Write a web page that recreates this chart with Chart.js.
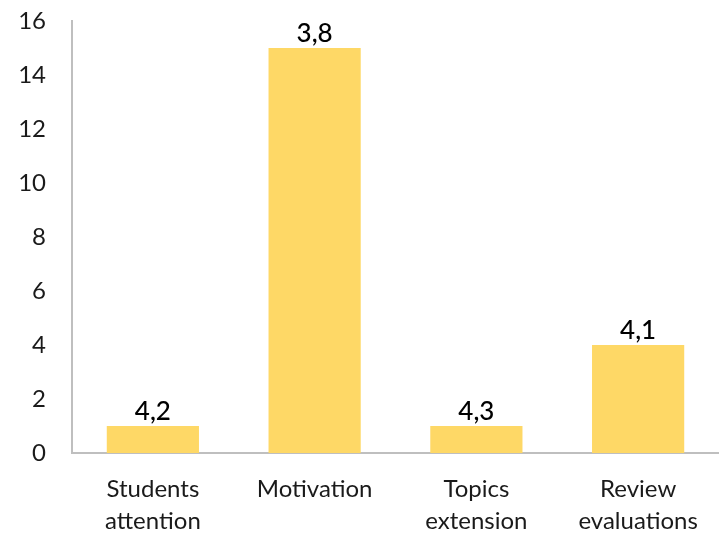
<!DOCTYPE html>
<html>
<head>
<meta charset="utf-8">
<script src="https://cdn.jsdelivr.net/npm/chart.js@4"></script>
<style>
  html, body { margin: 0; padding: 0; background: #fff; }
  canvas { display: block; }
</style>
</head>
<body>
<canvas id="chart" width="719" height="533"></canvas>
<script>
const categories = [['Students', 'attention'], 'Motivation', ['Topics', 'extension'], ['Review', 'evaluations']];
const counts = [1, 15, 1, 4];
const scores = ['4,2', '3,8', '4,3', '4,1'];
const yTicks = [0, 2, 4, 6, 8, 10, 12, 14, 16];

const FONT = "Lato, sans-serif";

// score text above each bar
const scoreLabels = {
  id: 'scoreLabels',
  afterDatasetsDraw(chart) {
    const { ctx } = chart;
    const meta = chart.getDatasetMeta(0);
    ctx.save();
    ctx.font = '500 26px ' + FONT;
    ctx.fillStyle = '#000';
    ctx.textAlign = 'center';
    ctx.textBaseline = 'alphabetic';
    meta.data.forEach((bar, i) => {
      ctx.fillText(scores[i], bar.x, bar.y - 6);
    });
    ctx.restore();
  }
};

new Chart(document.getElementById('chart').getContext('2d'), {
  type: 'bar',
  data: {
    labels: categories,
    datasets: [{
      data: counts,
      backgroundColor: '#FED866',
      categoryPercentage: 1,
      barPercentage: 0.57
    }]
  },
  options: {
    responsive: false,
    animation: false,
    layout: { padding: { top: 21, right: 0, left: 0, bottom: 0 } },
    plugins: { legend: { display: false }, tooltip: { enabled: false } },
    scales: {
      x: {
        grid: { display: false, drawTicks: false },
        border: { color: '#BFBFBF', width: 2 },
        ticks: { font: { family: FONT, size: 24, lineHeight: 1.33 }, color: '#1a1a1a', padding: 20, maxRotation: 0 },
        afterFit(scale) { scale.height = 80; }
      },
      y: {
        min: 0,
        max: 16,
        afterBuildTicks(scale) { scale.ticks = yTicks.map(v => ({ value: v })); },
        grid: { display: false, drawTicks: false },
        border: { color: '#BFBFBF', width: 2 },
        ticks: { font: { family: FONT, size: 24 }, color: '#1a1a1a', padding: 26 },
        afterFit(scale) {
          scale.width = 72;
          scale.paddingTop = 0;
          scale.paddingBottom = 0;
        }
      }
    }
  },
  plugins: [scoreLabels]
});
</script>
</body>
</html>
